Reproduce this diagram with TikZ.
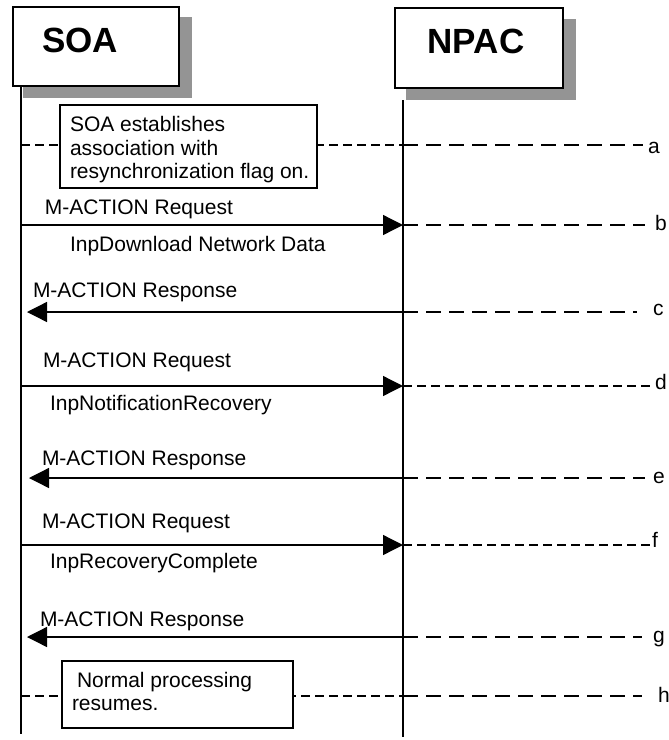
\documentclass[tikz,border=0pt]{standalone}
\usepackage{fontspec}
\setmainfont{Liberation Sans}
\usetikzlibrary{arrows.meta}
\begin{document}
\begin{tikzpicture}[x=1pt,y=-1pt,
  every node/.style={inner sep=0pt, outer sep=0pt},
  txt/.style={anchor=base west, font=\fontsize{21}{23}\selectfont},
  ttl/.style={anchor=base, font=\fontsize{35}{40}\selectfont\bfseries},
  actor/.style={draw=black, line width=1.3pt, fill=white, anchor=north west},
  shadowbox/.style={fill=black!42, draw=none},
  life/.style={line width=1.3pt},
  msg/.style={line width=1.3pt, -{Triangle[length=20pt,width=20pt]}},
  ld/.style={line width=1.1pt, dash pattern=on 15pt off 8pt},
  sd/.style={line width=1.1pt, dash pattern=on 9pt off 5pt},
  notebox/.style={draw=black, line width=1.2pt, fill=white, anchor=north west}]
\useasboundingbox (0,0) rectangle (669,740);

% actors
\fill[shadowbox] (23,17) rectangle (192,98);
\node[actor, minimum width=166pt, minimum height=79pt] (soa) at (13,7) {};
\node[ttl] (soat) at (80,52) {SOA};
\fill[shadowbox] (406,19) rectangle (576,100);
\node[actor, minimum width=168pt, minimum height=80pt] (npac) at (395,8) {};
\node[ttl] (npact) at (476,53) {NPAC};

% lifelines
\coordinate (stop) at (21,86);
\coordinate (sbot) at (21,734);
\coordinate (ntop) at (403,100);
\coordinate (nbot) at (403,737);
\draw[life] (stop) -- (sbot);
\draw[life] (ntop) -- (nbot);

% a : note
\coordinate (sa) at (21,145);
\coordinate (na) at (403,145);
\coordinate (ea) at (643,145);
\draw[sd] (sa) -- (na);
\draw[ld] (na) -- (ea);
\node[notebox, minimum width=257pt, minimum height=83pt] (note1) at (60,105) {};
\node[txt] (n1a) at (70,131) {SOA establishes};
\node[txt] (n1b) at (70,155) {association with};
\node[txt] (n1c) at (70,178) {resynchronization flag on.};
\node[txt] (la) at (648,153) {a};

% b
\coordinate (sb) at (21,225);
\coordinate (nb) at (403,225);
\coordinate (eb) at (645,225);
\draw[msg] (sb) -- (nb);
\draw[ld] (nb) -- (eb);
\node[txt] (mb1) at (45,214) {M-ACTION Request};
\node[txt] (mb2) at (70,251) {InpDownload Network Data};
\node[txt] (lb) at (655,230) {b};

% c
\coordinate (sc) at (27,312);
\coordinate (nc) at (403,312);
\coordinate (ec) at (637,312);
\draw[msg] (nc) -- (sc);
\draw[ld] (nc) -- (ec);
\node[txt] (mc) at (33,297) {M-ACTION Response};
\node[txt] (lc) at (653,315) {c};

% d
\coordinate (sd0) at (21,386);
\coordinate (nd) at (403,386);
\coordinate (ed) at (653,386);
\draw[msg] (sd0) -- (nd);
\draw[sd] (nd) -- (ed);
\node[txt] (md1) at (43,367) {M-ACTION Request};
\node[txt] (md2) at (50,410) {InpNotificationRecovery};
\node[txt] (ld0) at (655,389) {d};

% e
\coordinate (se) at (29,478);
\coordinate (ne) at (403,478);
\coordinate (ee) at (645,478);
\draw[msg] (ne) -- (se);
\draw[ld] (ne) -- (ee);
\node[txt] (me) at (42,465) {M-ACTION Response};
\node[txt] (le) at (653,483) {e};

% f
\coordinate (sf) at (21,545);
\coordinate (nf) at (403,545);
\coordinate (ef) at (652,545);
\draw[msg] (sf) -- (nf);
\draw[sd] (nf) -- (ef);
\node[txt] (mf1) at (42,528) {M-ACTION Request};
\node[txt] (mf2) at (50,568) {InpRecoveryComplete};
\node[txt] (lf) at (652,547) {f};

% g
\coordinate (sg) at (27,637);
\coordinate (ng) at (403,637);
\coordinate (eg) at (642,637);
\draw[msg] (ng) -- (sg);
\draw[ld] (ng) -- (eg);
\node[txt] (mg) at (40,626) {M-ACTION Response};
\node[txt] (lg) at (653,642) {g};

% h : note
\coordinate (sh) at (21,696);
\coordinate (nh) at (403,696);
\coordinate (eh) at (642,696);
\draw[sd] (sh) -- (nh);
\draw[ld] (nh) -- (eh);
\node[notebox, minimum width=231pt, minimum height=67pt] (note2) at (62,661) {};
\node[txt] (n2a) at (77,687) {Normal processing};
\node[txt] (n2b) at (72,710) {resumes.};
\node[txt] (lh) at (658,702) {h};
\end{tikzpicture}
\end{document}
